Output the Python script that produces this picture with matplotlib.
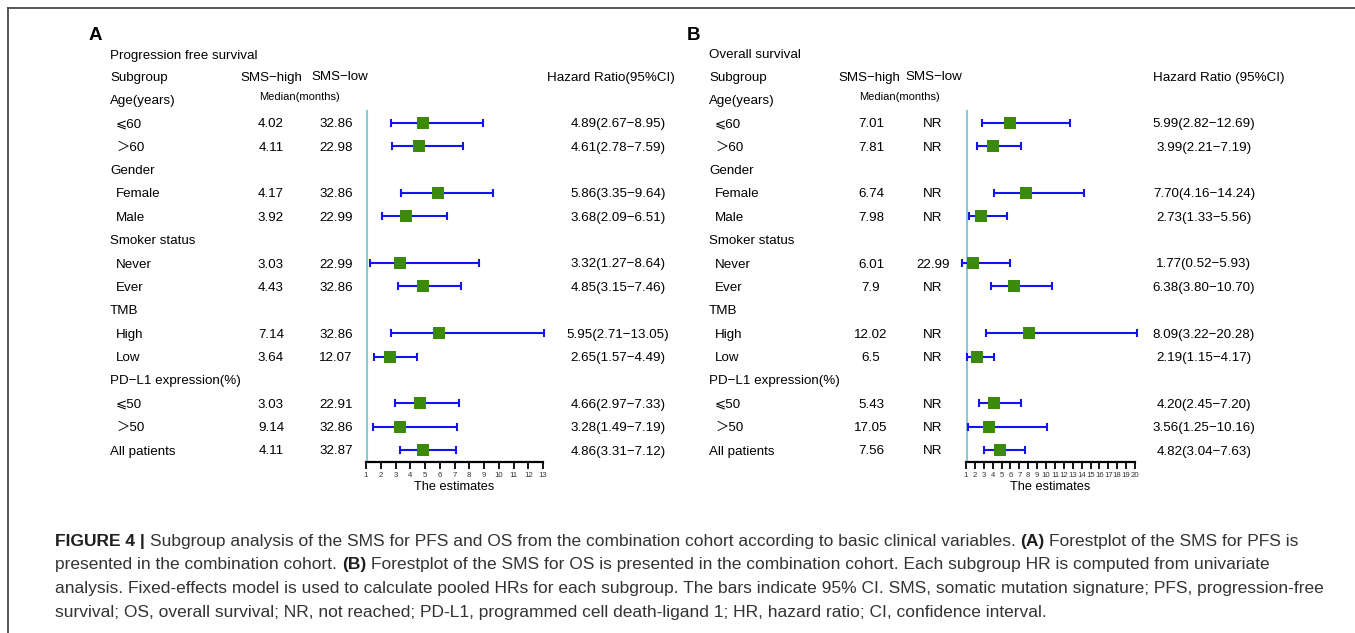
import matplotlib
matplotlib.use('Agg')
import matplotlib.pyplot as plt

plt.rcParams['font.family'] = ['Liberation Sans', 'DejaVu Sans', 'Noto Sans CJK SC']

# ---------------- data ----------------
row_labels = ["Age(years)", "⩽60", "＞60", "Gender", "Female", "Male",
              "Smoker status", "Never", "Ever", "TMB", "High", "Low",
              "PD−L1 expression(%)", "⩽50", "＞50", "All patients"]
row_is_head = [True, False, False, True, False, False, True, False, False,
               True, False, False, True, False, False, True]

pfs_high = ["4.02", "4.11", "4.17", "3.92", "3.03", "4.43", "7.14", "3.64", "3.03", "9.14", "4.11"]
pfs_low = ["32.86", "22.98", "32.86", "22.99", "22.99", "32.86", "32.86", "12.07", "22.91", "32.86", "32.87"]
pfs_hr = [4.89, 4.61, 5.86, 3.68, 3.32, 4.85, 5.95, 2.65, 4.66, 3.28, 4.86]
pfs_lo = [2.67, 2.78, 3.35, 2.09, 1.27, 3.15, 2.71, 1.57, 2.97, 1.49, 3.31]
pfs_hi = [8.95, 7.59, 9.64, 6.51, 8.64, 7.46, 13.05, 4.49, 7.33, 7.19, 7.12]
pfs_ticks = list(range(1, 14))

os_high = ["7.01", "7.81", "6.74", "7.98", "6.01", "7.9", "12.02", "6.5", "5.43", "17.05", "7.56"]
os_low = ["NR", "NR", "NR", "NR", "22.99", "NR", "NR", "NR", "NR", "NR", "NR"]
os_hr = [5.99, 3.99, 7.70, 2.73, 1.77, 6.38, 8.09, 2.19, 4.20, 3.56, 4.82]
os_lo = [2.82, 2.21, 4.16, 1.33, 0.52, 3.80, 3.22, 1.15, 2.45, 1.25, 3.04]
os_hi = [12.69, 7.19, 14.24, 5.56, 5.93, 10.70, 20.28, 4.17, 7.20, 10.16, 7.63]
os_ticks = list(range(1, 21))

caption_lines = [
    [("FIGURE 4 |", True), ("Subgroup analysis of the SMS for PFS and OS from the combination cohort according to basic clinical variables.", False),
     ("(A)", True), ("Forestplot of the SMS for PFS is", False)],
    [("presented in the combination cohort.", False), ("(B)", True),
     ("Forestplot of the SMS for OS is presented in the combination cohort. Each subgroup HR is computed from univariate", False)],
    [("analysis. Fixed-effects model is used to calculate pooled HRs for each subgroup. The bars indicate 95% CI. SMS, somatic mutation signature; PFS, progression-free", False)],
    [("survival; OS, overall survival; NR, not reached; PD-L1, programmed cell death-ligand 1; HR, hazard ratio; CI, confidence interval.", False)],
]

# ---------------- layout ----------------
W, H = 1355, 633
fig = plt.figure(figsize=(W / 100, H / 100), dpi=100)
bg = fig.add_axes([0, 0, 1, 1])
bg.set_xlim(0, W)
bg.set_ylim(H, 0)
bg.axis('off')

# frame
bg.plot([8, 8], [8, H], color='#4a4a4a', lw=1.3, clip_on=False)
bg.plot([8, W], [8, 8], color='#4a4a4a', lw=1.3, clip_on=False)

ROW0 = 76.0
DY = 23.375
FS = 9.6
BOX = '#3c8a0c'
BAR = '#1414f0'
VLINE = '#86ccd6'
VA = 'center_baseline'


def row_y(i):
    return ROW0 + DY * i


def panel(cfg, high, low, hr, lo, hi, ticks):
    x_head = cfg['x_head']
    bg.text(cfg['x_letter'], 33, cfg['letter'], fontsize=13.5, fontweight='bold', va=VA, ha='left')
    bg.text(x_head, row_y(0) - 22, cfg['title'], fontsize=FS, va=VA, ha='left', fontweight='medium')
    bg.text(x_head, row_y(0), "Subgroup", fontsize=FS, va=VA, ha='left')
    bg.text(cfg['c_high_h'], row_y(0), "SMS−high", fontsize=FS, va=VA, ha='center')
    bg.text(cfg['c_low_h'], row_y(0), "SMS−low", fontsize=FS, va=VA, ha='center')
    bg.text(cfg['c_hr_h'], row_y(0), cfg['hr_header'], fontsize=FS, va=VA, ha='center')
    bg.text(cfg['c_med'], row_y(1) - 3, "Median(months)", fontsize=8.0, va=VA, ha='center')

    k = 0
    data_rows = []
    for i, (lab, head) in enumerate(zip(row_labels, row_is_head)):
        y = row_y(i + 1)
        if head:
            bg.text(x_head, y, lab, fontsize=FS, va=VA, ha='left')
            if lab != "All patients":
                continue
        else:
            bg.text(x_head + 6, y, lab, fontsize=FS, va=VA, ha='left')
        bg.text(cfg['c_high'], y, high[k], fontsize=FS, va=VA, ha='center')
        bg.text(cfg['c_low'], y, low[k], fontsize=FS, va=VA, ha='center')
        bg.text(cfg['c_hr'], y, f"{hr[k]:.2f}({lo[k]:.2f}−{hi[k]:.2f})", fontsize=FS, va=VA, ha='center')
        data_rows.append(y)
        k += 1

    # forest axes
    x0, x1 = cfg['ax_x0'], cfg['ax_x1']
    ytop, ybot = 110, 462
    ax = fig.add_axes([x0 / W, 1 - ybot / H, (x1 - x0) / W, (ybot - ytop) / H])
    ax.set_xlim(ticks[0], ticks[-1])
    ax.set_ylim(ybot, ytop)
    ax.patch.set_alpha(0)
    for s in ['top', 'right', 'left']:
        ax.spines[s].set_visible(False)
    ax.spines['bottom'].set_linewidth(1.6)
    ax.set_yticks([])
    ax.set_xticks(ticks)
    ax.set_xticklabels([str(t) for t in ticks])
    ax.tick_params(axis='x', direction='out', length=5, width=1.3, labelsize=5.6, pad=2.5,
                   labelcolor='#333333')
    ax.axvline(1, color=VLINE, lw=2.2, zorder=1)
    ax.errorbar(hr, data_rows, xerr=[[h - l for h, l in zip(hr, lo)], [u - h for h, u in zip(hr, hi)]],
                fmt='none', ecolor=BAR, elinewidth=1.5, capsize=2.9, capthick=1.5, zorder=2, clip_on=False)
    ax.plot(hr, data_rows, 's', color=BOX, markersize=9.3, markeredgewidth=0, zorder=3, clip_on=False)
    ax.set_xlabel("The estimates", fontsize=9.2, labelpad=1)


cfgA = dict(letter='A', x_letter=89, x_head=110, title="Progression free survival",
            c_high_h=271, c_low_h=340, c_hr_h=611, hr_header="Hazard Ratio(95%CI)",
            c_high=271, c_low=336, c_hr=618, c_med=300, ax_x0=366, ax_x1=543)
cfgB = dict(letter='B', x_letter=687, x_head=709, title="Overall survival",
            c_high_h=869, c_low_h=934, c_hr_h=1219, hr_header="Hazard Ratio (95%CI)",
            c_high=871, c_low=933, c_hr=1204, c_med=900, ax_x0=966, ax_x1=1135)

panel(cfgA, pfs_high, pfs_low, pfs_hr, pfs_lo, pfs_hi, pfs_ticks)
panel(cfgB, os_high, os_low, os_hr, os_lo, os_hi, os_ticks)

# ---------------- caption ----------------
renderer = fig.canvas.get_renderer()


def line_width(pieces, fs):
    total = 0
    ts = []
    for s, b in pieces:
        t = bg.text(0, -100, s, fontsize=fs, fontweight='bold' if b else 'normal')
        total += t.get_window_extent(renderer).width
        ts.append(t)
    for t in ts:
        t.remove()
    return total + (len(pieces) - 1) * 0.278 * fs * 100 / 72


fs0 = 12.0
targets = [1265, 1265, 1265, 1005]
ratio = min(t / line_width(p, fs0) for t, p in zip(targets, caption_lines))
cfs = fs0 * ratio

cap_y = [540, 563.5, 587, 611]
for pieces, y in zip(caption_lines, cap_y):
    x = 55
    for s, b in pieces:
        t = bg.text(x, y, s, fontsize=cfs, fontweight='bold' if b else 'normal',
                    color='#1e1e1e' if b else '#333333', va=VA, ha='left')
        x += t.get_window_extent(renderer).width + 0.278 * cfs * 100 / 72

fig.savefig('out.png', dpi=100)
